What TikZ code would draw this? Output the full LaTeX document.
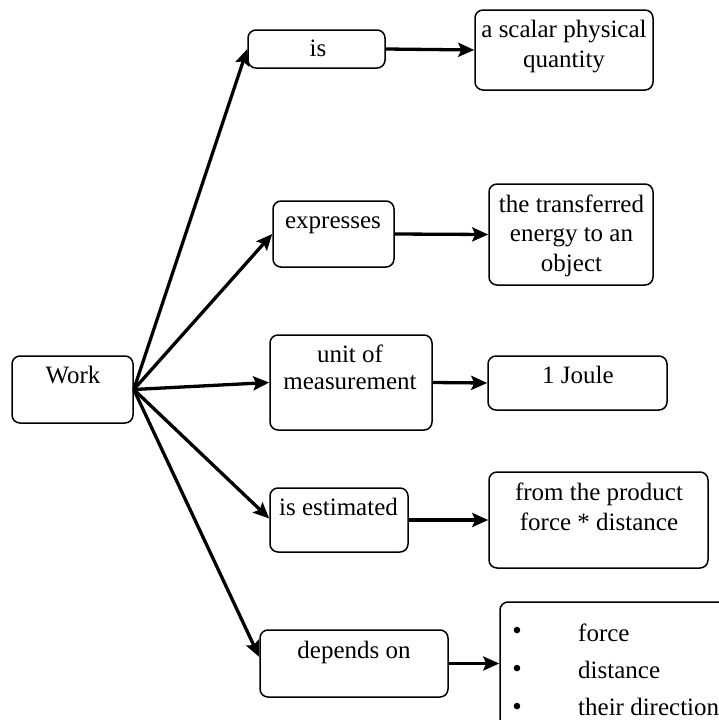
\documentclass[tikz,border=0pt]{standalone}
\usepackage{fontspec}
\setmainfont{Liberation Serif}
\usetikzlibrary{arrows.meta,calc}
\begin{document}
\begin{tikzpicture}[x=1pt,y=-1pt,
  box/.style={draw,rounded corners=8pt,line width=1.5pt,inner sep=0pt},
  txt/.style={inner sep=0pt,align=center,font=\fontsize{25}{29.5}\selectfont},
  bul/.style={inner sep=0pt,font=\fontsize{27}{27}\selectfont},
  arr/.style={line width=3.3pt,-{Stealth[length=16pt,width=14pt,inset=3pt]}}]
\useasboundingbox (0,0) rectangle (719,720);
% boxes
\node[box,minimum width=121pt,minimum height=67pt] (work) at (72.5,389.5) {};
\node[box,minimum width=137pt,minimum height=38pt] (is) at (316.5,49) {};
\node[box,minimum width=178pt,minimum height=80pt] (scalar) at (564,50) {};
\node[box,minimum width=121pt,minimum height=66pt] (expr) at (333.5,234) {};
\node[box,minimum width=164pt,minimum height=101pt] (energy) at (571,234.5) {};
\node[box,minimum width=162pt,minimum height=95pt] (unit) at (351,382.5) {};
\node[box,minimum width=179pt,minimum height=54pt] (joule) at (577.5,383) {};
\node[box,minimum width=138pt,minimum height=64pt] (est) at (339,520) {};
\node[box,minimum width=219pt,minimum height=96pt] (prod) at (598.5,520) {};
\node[box,minimum width=188pt,minimum height=67pt] (dep) at (354,663.5) {};
\node[box,minimum width=240pt,minimum height=138pt] (list) at (620,671) {};
% texts (base anchor = baseline of the last line)
\node[txt,anchor=base] at (73,383) {Work};
\node[txt,anchor=base] at (318,56) {is};
\node[txt,anchor=base] at (564,67) {a scalar physical\\quantity};
\node[txt,anchor=base] at (333,228) {expresses};
\node[txt,anchor=base] at (571.5,271) {the transferred\\energy to an\\object};
\node[txt,anchor=base,font=\fontsize{25}{27}\selectfont] at (350,389) {unit of\\measurement};
\node[txt,anchor=base] at (578,383) {1 Joule};
\node[txt,anchor=base] at (338.5,515) {is estimated};
\node[txt,anchor=base] at (599,530) {from the product\\force * distance};
\node[txt,anchor=base] at (354,658) {depends on};
\node[txt,anchor=base west] at (578,641) {force};
\node[txt,anchor=base west] at (578,678) {distance};
\node[txt,anchor=base west] at (578,715) {their direction};
\node[bul] at (517,633.5) {\textbullet};
\node[bul] at (517,671.5) {\textbullet};
\node[bul] at (517,709.5) {\textbullet};
% connectors
\draw[arr] (work.east) -- (is.west);
\draw[arr] (work.east) -- (expr.west);
\draw[arr] (work.east) -- (unit.west);
\draw[arr] (work.east) -- ([yshift=1.5pt]est.west);
\draw[arr] (work.east) -- ([yshift=6.5pt]dep.west);
\draw[arr] (is.east) -- (scalar.west);
\draw[arr] (expr.east) -- (energy.west);
\draw[arr] (unit.east) -- (joule.west);
\draw[arr] (est.east) -- (prod.west);
\draw[arr] (dep.east) -- (dep.east -| list.west);
\end{tikzpicture}
\end{document}
